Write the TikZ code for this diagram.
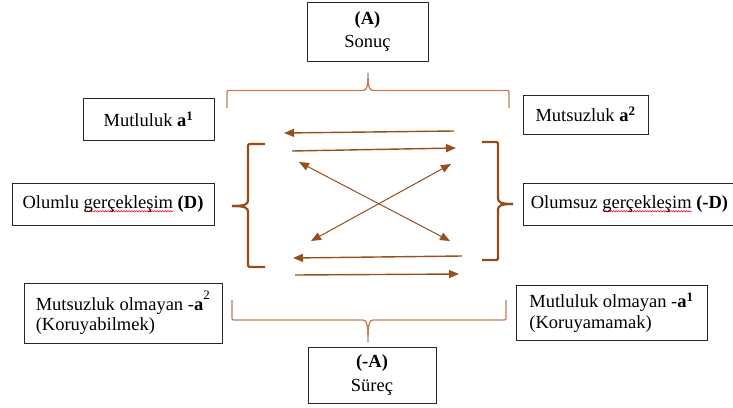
\documentclass[tikz,border=0pt]{standalone}
\usepackage{fontspec}
\setmainfont{Liberation Serif}
\usetikzlibrary{arrows.meta,decorations.pathmorphing}

\newdimen\squigwd
\newcommand{\squig}[1]{\setbox0\hbox{#1}\squigwd=\wd0\rlap{\tikz[baseline=0pt]\draw[red,line width=0.5pt,decorate,decoration={snake,amplitude=0.7pt,segment length=2.6pt}] (0pt,-2.8pt) -- (\squigwd,-2.8pt);}\box0}

\tikzset{
  box/.style={draw=black!85, line width=0.9pt, inner sep=0pt},
  arrow/.style={draw=arrowbrown, line width=1.4pt, -{Triangle[length=10pt,width=8pt]}},
  twoway/.style={draw=arrowbrown, line width=1pt, {Triangle[length=10pt,width=8pt]}-{Triangle[length=10pt,width=8pt]}},
  lightbrace/.style={draw=bracelight, line width=1.3pt},
  darkbrace/.style={draw=bracedark, line width=2.2pt}
}

\begin{document}
\begin{tikzpicture}[x=1pt,y=-1pt,font=\fontsize{18.5}{20.5}\selectfont]
% Define colours
\definecolor{arrowbrown}{RGB}{150,80,30}
\definecolor{bracedark}{RGB}{150,75,25}
\definecolor{bracelight}{RGB}{190,125,85}

\useasboundingbox (0,0) rectangle (733,407);

% Draw boxes
\node[box, minimum width=121, minimum height=59, align=center] (sonuc) at (367.5,31.5) {\textbf{(A)}\\[3pt]Sonuç};
\node[box, minimum width=131, minimum height=42] (mutluluk) at (148.5,119) {Mutluluk \textbf{a}\textsuperscript{\textbf{1}}};
\node[box, minimum width=125, minimum height=39] (mutsuzluk) at (585.5,114.5) {Mutsuzluk \textbf{a}\textsuperscript{\textbf{2}}};
\node[box, minimum width=202, minimum height=42] (olumlu) at (113,204) {Olumlu \squig{gerçekleşim}\ \textbf{(D)}};
\node[box, minimum width=213, minimum height=42] (olumsuz) at (629.5,204) {Olumsuz \squig{gerçekleşim}\ \textbf{(-D)}};
\node[box, minimum width=198, minimum height=60, align=left] (mutsuzol) at (123,313) {Mutsuzluk olmayan -\textbf{a}\textsuperscript{\raisebox{4pt}{2}}\\(Koruyabilmek)};
\node[box, minimum width=191, minimum height=55, align=left] (mutlulukol) at (611.5,312.5) {Mutluluk olmayan -\textbf{a}\textsuperscript{\textbf{1}}\\(Koruyamamak)};
\node[box, minimum width=128, minimum height=56, align=center] (surec) at (372,375) {\textbf{(-A)}\\[3pt]Süreç};

% Draw top and bottom braces
\draw[lightbrace] (227,108) -- (227,94) .. controls (227,90.5) .. (231,90.5) -- (363,90.5)
  .. controls (367,90.5) and (368,86) .. (368,73) .. controls (368,86) and (369,90.5) .. (373,90.5)
  -- (505,90.5) .. controls (509,90.5) .. (509,94) -- (509,108);
\draw[lightbrace] (232,300) -- (232,316) .. controls (232,320) .. (236,320) -- (363,320)
  .. controls (367,320) and (368,325) .. (368,342) .. controls (368,325) and (369,320) .. (373,320)
  -- (502,320) .. controls (506,320) .. (506,316) -- (506,300);

% Draw side braces
\draw[darkbrace] (232,206) .. controls (246,206) and (248,204) .. (248,200) -- (248,148) .. controls (248,144) .. (252,144) -- (265,144);
\draw[darkbrace] (232,206) .. controls (246,206) and (248,208) .. (248,212) -- (248,263) .. controls (248,267) .. (252,267) -- (265,267);
\draw[darkbrace] (513,204) .. controls (500,204) and (498,202) .. (498,198) -- (498,146) .. controls (498,142) .. (494,142) -- (482,142);
\draw[darkbrace] (513,204) .. controls (500,204) and (498,206) .. (498,210) -- (498,256) .. controls (498,260) .. (494,260) -- (482,260);

% Arrow end points
\coordinate (r1a) at (454,131); \coordinate (r1b) at (284,133);
\coordinate (r2a) at (292,151); \coordinate (r2b) at (456,148);
\coordinate (x1a) at (299,162); \coordinate (x1b) at (450,241);
\coordinate (x2a) at (311,241); \coordinate (x2b) at (451,164);
\coordinate (r3a) at (462,256); \coordinate (r3b) at (293,258);
\coordinate (r4a) at (295,275); \coordinate (r4b) at (459,274);

% Draw arrows
\draw[arrow] (r1a) -- (r1b);
\draw[arrow] (r2a) -- (r2b);
\draw[twoway] (x1a) -- (x1b);
\draw[twoway] (x2a) -- (x2b);
\draw[arrow] (r3a) -- (r3b);
\draw[arrow] (r4a) -- (r4b);
\end{tikzpicture}
\end{document}
